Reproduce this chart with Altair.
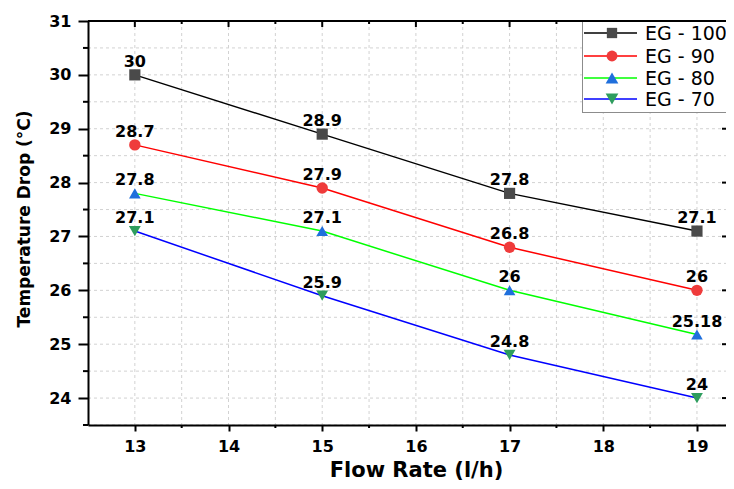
import altair as alt
import pandas as pd

# ---------------- data ----------------
flow = [13, 15, 17, 19]
series = ["EG - 100", "EG - 90", "EG - 80", "EG - 70"]
eg100 = [30, 28.9, 27.8, 27.1]
eg90 = [28.7, 27.9, 26.8, 26]
eg80 = [27.8, 27.1, 26, 25.18]
eg70 = [27.1, 25.9, 24.8, 24]
values = [eg100, eg90, eg80, eg70]

line_colors = ["#000000", "#ff0000", "#00ff00", "#0000ff"]
marker_colors = ["#4a4a4a", "#ef3b3b", "#1f6fdc", "#2e9d5e"]
shapes = ["square", "circle", "triangle-up", "triangle-down"]
marker_sizes = [125, 140, 190, 190]

x_major = [13, 14, 15, 16, 17, 18, 19]
x_minor = [13.5, 14.5, 15.5, 16.5, 17.5, 18.5]
y_major = [24, 25, 26, 27, 28, 29, 30, 31]
y_minor = [23.5, 24.5, 25.5, 26.5, 27.5, 28.5, 29.5, 30.5]

rows = []
for name, vals in zip(series, values):
    for f, v in zip(flow, vals):
        rows.append({"flow": f, "temp": v, "series": name, "label": f"{v:g}"})
df = pd.DataFrame(rows)

# ---------------- layout ----------------
W, H = 638, 404
FONT = "DejaVu Sans"
GRID = "#d2d2d2"
DASH = [3, 3]
xscale = alt.Scale(domain=[12.5, 19.31], nice=False, zero=False)
yscale = alt.Scale(domain=[23.5, 31], nice=False, zero=False)

x_axis = alt.Axis(
    values=x_major, format="d",
    tickSize=6, tickWidth=2, tickColor="black",
    domainWidth=2, domainColor="black",
    labelPadding=7, labelFont=FONT, labelFontSize=16, labelFontWeight="bold",
    labelColor="black", labelOverlap=False, grid=False,
    title="Flow Rate (l/h)", titleFont=FONT, titleFontSize=21, titleFontWeight="bold",
    titleColor="black", titleX=328, titleY=51, titleBaseline="alphabetic", titleAlign="center",
    zindex=1,
)
y_axis = alt.Axis(
    values=y_major, format="d",
    tickSize=10, tickWidth=2, tickColor="black",
    domainWidth=2, domainColor="black",
    labelPadding=7, labelFont=FONT, labelFontSize=16, labelFontWeight="bold",
    labelColor="black", labelOverlap=False, grid=False,
    title="Temperature Drop (°C)", titleFont=FONT, titleFontSize=17, titleFontWeight="bold",
    titleColor="black", titleAngle=-90, titleX=-59, titleY=197.5,
    titleBaseline="alphabetic", titleAlign="center",
    zindex=1,
)

X = alt.X("flow:Q", scale=xscale, axis=x_axis)
Y = alt.Y("temp:Q", scale=yscale, axis=y_axis)
Xp = alt.X("flow:Q", scale=xscale)
Yp = alt.Y("temp:Q", scale=yscale)

xminor_df = pd.DataFrame({"flow": x_minor})
yminor_df = pd.DataFrame({"temp": y_minor})
xgrid_df = pd.DataFrame({"flow": x_major + x_minor})
ygrid_df = pd.DataFrame({"temp": y_major + y_minor})

# grid lines (drawn beneath the data)
grid_x = alt.Chart(xgrid_df).mark_rule(color=GRID, strokeWidth=1, strokeDash=DASH).encode(
    x=X, y=alt.value(0), y2=alt.value(H))
grid_y = alt.Chart(ygrid_df).mark_rule(color=GRID, strokeWidth=1, strokeDash=DASH).encode(
    y=Y, x=alt.value(0), x2=alt.value(W))

lines = alt.Chart(df).mark_line(strokeWidth=1.5).encode(
    x=Xp, y=Yp,
    stroke=alt.Stroke("series:N", scale=alt.Scale(domain=series, range=line_colors), legend=None),
)
points = alt.Chart(df).mark_point(filled=True, opacity=1).encode(
    x=Xp, y=Yp,
    fill=alt.Fill("series:N", scale=alt.Scale(domain=series, range=marker_colors), legend=None),
    shape=alt.Shape("series:N", scale=alt.Scale(domain=series, range=shapes), legend=None),
    size=alt.Size("series:N", scale=alt.Scale(domain=series, range=marker_sizes), legend=None),
)
labels = alt.Chart(df).mark_text(
    font=FONT, fontSize=16, fontWeight="bold", color="black",
    baseline="alphabetic", align="center", dy=-8,
).encode(x=Xp, y=Yp, text="label:N")

# minor ticks (outward) on bottom / left axes
bot_minor = alt.Chart(xminor_df).mark_rule(color="black", strokeWidth=2).encode(
    x=Xp, y=alt.value(H), y2=alt.value(H + 3))
left_minor = alt.Chart(yminor_df).mark_rule(color="black", strokeWidth=2).encode(
    y=Yp, x=alt.value(-5), x2=alt.value(0))

# top (inward) ticks and right (inward) ticks
top_major = alt.Chart(pd.DataFrame({"flow": x_major})).mark_rule(color="black", strokeWidth=2).encode(
    x=Xp, y=alt.value(0), y2=alt.value(6))
top_minor = alt.Chart(xminor_df).mark_rule(color="black", strokeWidth=2).encode(
    x=Xp, y=alt.value(0), y2=alt.value(3))
right_major = alt.Chart(pd.DataFrame({"temp": y_major})).mark_rule(color="black", strokeWidth=2).encode(
    y=Yp, x=alt.value(W - 4), x2=alt.value(W))

# legend (drawn as marks, kept inside the plot box)
box = pd.DataFrame({"series": ["box"]})
leg_layers = [
    alt.Chart(box).mark_rect(fill="white", strokeWidth=0).encode(
        x=alt.value(494), x2=alt.value(W), y=alt.value(0), y2=alt.value(92)),
    alt.Chart(box).mark_rule(color="#8c8c8c", strokeWidth=1).encode(
        x=alt.value(494.5), y=alt.value(0), y2=alt.value(92)),
    alt.Chart(box).mark_rule(color="#8c8c8c", strokeWidth=1).encode(
        x=alt.value(494), x2=alt.value(W), y=alt.value(91.5)),
]
row_y = [12, 35, 57, 78]
for i, name in enumerate(series):
    d = pd.DataFrame({"series": [name]})
    leg_layers.append(alt.Chart(d).mark_rule(color=line_colors[i], strokeWidth=1.5).encode(
        x=alt.value(496), x2=alt.value(549), y=alt.value(row_y[i])))
    leg_layers.append(alt.Chart(d).mark_point(
        filled=True, shape=shapes[i], color=marker_colors[i], size=marker_sizes[i] * 0.85,
        opacity=1).encode(x=alt.value(524), y=alt.value(row_y[i])))
    leg_layers.append(alt.Chart(d).mark_text(
        font=FONT, fontSize=19, color="black", align="left", baseline="middle").encode(
        x=alt.value(557), y=alt.value(row_y[i] + 1), text="series:N"))

top_border = alt.Chart(box).mark_rule(color="black", strokeWidth=2).encode(
    x=alt.value(0), x2=alt.value(W), y=alt.value(0))

chart = alt.layer(
    grid_x, grid_y, lines, points, labels, bot_minor, left_minor,
    top_major, top_minor, right_major, *leg_layers, top_border
).properties(
    width=W, height=H,
    autosize=alt.AutoSizeParams(type="none"),
    padding={"left": 80, "top": 13, "right": 0, "bottom": 56},
    background="white",
).configure_view(stroke=None)

chart.save("out.html", embed_options={"renderer": "svg", "actions": False})
